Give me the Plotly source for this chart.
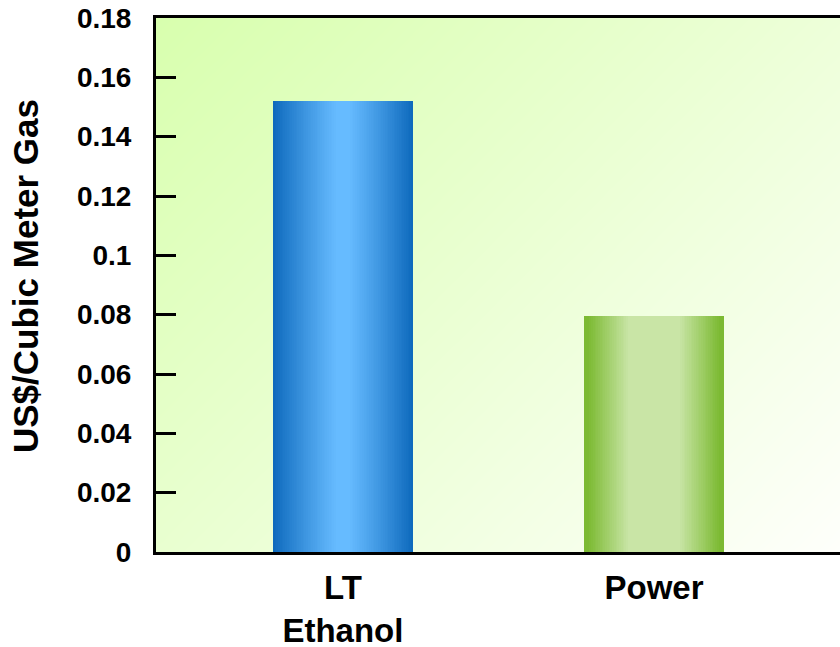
import plotly.graph_objects as go
import numpy as np

# Data
categories = ["LT<br>Ethanol", "Power"]
values = [0.152, 0.0795]
y_ticks = [0, 0.02, 0.04, 0.06, 0.08, 0.10, 0.12, 0.14, 0.16, 0.18]
y_tick_labels = ["0", "0.02", "0.04", "0.06", "0.08", "0.1", "0.12", "0.14", "0.16", "0.18"]
y_title = "US$/Cubic Meter Gas"

x_pos = list(range(len(categories)))
X_RANGE = [-0.601, 1.598]
Y_RANGE = [0, 0.18]
BAR_W = 0.45

FONT = "Arial, 'Liberation Sans', sans-serif"


def hex_rgb(h):
    h = h.lstrip("#")
    return np.array([int(h[i:i + 2], 16) for i in (0, 2, 4)], dtype=float)


def mix(c1, c2, t):
    c = hex_rgb(c1) * (1 - t) + hex_rgb(c2) * t
    return "rgb(%d,%d,%d)" % tuple(np.round(c))


def blue_shade(d):
    # light centre fading to dark blue at the bar edges
    t = min(max((d - 0.08) / 0.92, 0.0), 1.0)
    return mix("#66bbff", "#0d69bc", t ** 1.1)


def green_shade(d):
    t = min(max((d - 0.36) / 0.58, 0.0), 1.0)
    return mix("#c9e5a6", "#7cba33", t)


fig = go.Figure()

# Diagonal background wash: yellow-green top-left to near white bottom-right
gx = np.linspace(X_RANGE[0] - 0.05, X_RANGE[1] + 0.05, 40)
gy = np.linspace(Y_RANGE[0] - 0.005, Y_RANGE[1] + 0.005, 40)
PW, PH = 684.0, 534.0
U = (gx[None, :] - X_RANGE[0]) / (X_RANGE[1] - X_RANGE[0]) * PW
V = (Y_RANGE[1] - gy[:, None]) / (Y_RANGE[1] - Y_RANGE[0]) * PH
Z = (U + V) / (PW + PH)
fig.add_trace(go.Heatmap(
    x=gx, y=gy, z=Z, zsmooth="best", zmin=0, zmax=1,
    colorscale=[[0, "#d8ffae"], [1, "#fefffb"]],
    showscale=False, hoverinfo="skip",
))

# Bars drawn as nested overlays to give the cylindrical shading
N = 40
for k in range(N):
    frac = 1 - k / N
    d = frac - 0.5 / N
    fig.add_trace(go.Bar(
        x=x_pos, y=values, width=BAR_W * frac,
        marker=dict(color=[blue_shade(d), green_shade(d)], line=dict(width=0)),
        showlegend=False, hoverinfo="skip",
    ))

fig.update_layout(
    width=840, height=647,
    margin=dict(l=156, r=0, t=18, b=95, autoexpand=False),
    paper_bgcolor="white", plot_bgcolor="white",
    barmode="overlay", bargap=0,
    showlegend=False,
    font=dict(family=FONT, color="black"),
)

fig.update_xaxes(
    range=X_RANGE, tickvals=x_pos, ticktext=categories,
    showgrid=False, zeroline=False, automargin=False,
    showline=True, linecolor="black", linewidth=3, mirror=True,
    ticks="", ticklabelstandoff=4,
    tickfont=dict(family=FONT, size=33, weight="bold", color="black"),
)
fig.update_yaxes(
    range=Y_RANGE, tickvals=y_ticks, ticktext=y_tick_labels,
    showgrid=False, zeroline=False, automargin=False,
    showline=True, linecolor="black", linewidth=3,
    ticks="inside", ticklen=20, tickwidth=3, tickcolor="black",
    ticklabelstandoff=16,
    tickfont=dict(family=FONT, size=28, weight="bold", color="black"),
)

fig.add_annotation(
    text=y_title, textangle=-90,
    xref="paper", yref="paper",
    x=(25 - 156) / 684.0, y=(552 - 276) / 534.0, xanchor="center", yanchor="middle",
    showarrow=False,
    font=dict(family=FONT, size=35, weight="bold", color="black"),
)

fig.write_html("out.html")
